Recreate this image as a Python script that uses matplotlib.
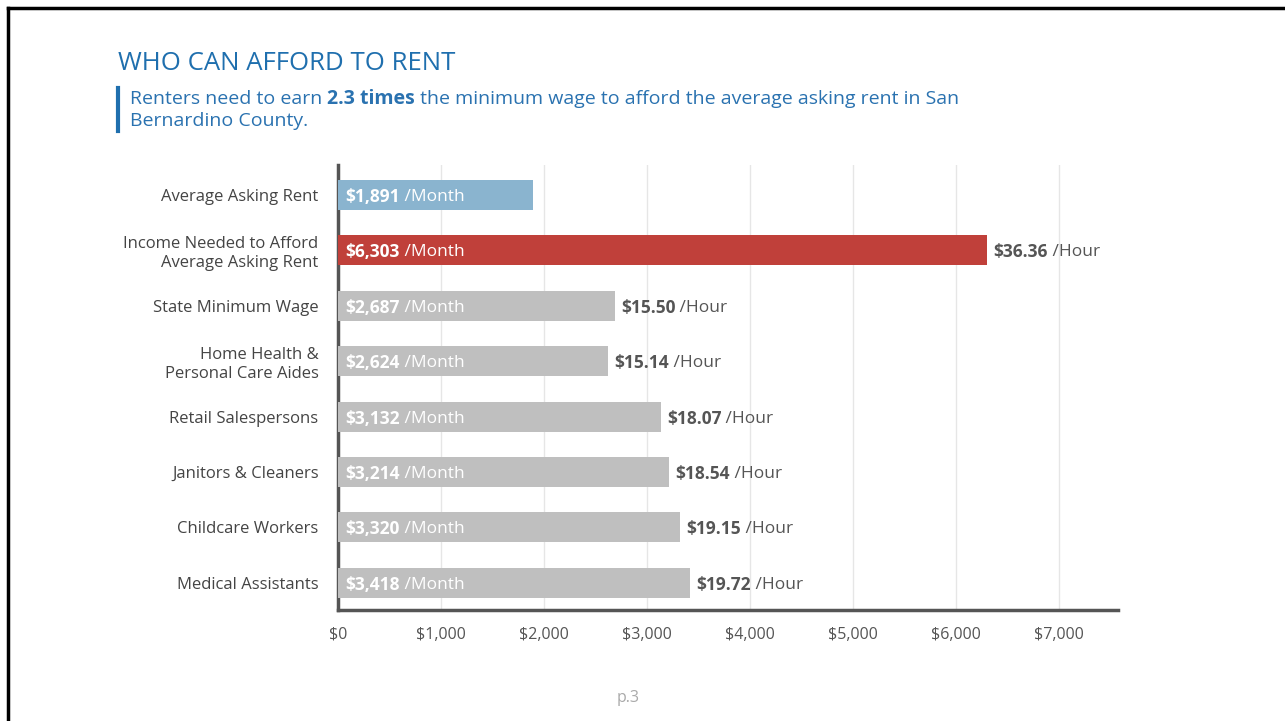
import matplotlib.pyplot as plt
from matplotlib.lines import Line2D
from matplotlib.transforms import offset_copy

# --- data ---
categories = ["Average Asking Rent", "Income Needed to Afford\nAverage Asking Rent",
              "State Minimum Wage", "Home Health &\nPersonal Care Aides",
              "Retail Salespersons", "Janitors & Cleaners",
              "Childcare Workers", "Medical Assistants"]
monthly = [1891, 6303, 2687, 2624, 3132, 3214, 3320, 3418]
hourly = [None, 36.36, 15.50, 15.14, 18.07, 18.54, 19.15, 19.72]
bar_colors = ["#8ab4cf", "#c0403a", "#bfbfbf", "#bfbfbf", "#bfbfbf", "#bfbfbf", "#bfbfbf", "#bfbfbf"]
xticks = [0, 1000, 2000, 3000, 4000, 5000, 6000, 7000]

plt.rcParams['font.family'] = ['Open Sans', 'DejaVu Sans']

fig = plt.figure(figsize=(12.85, 7.21), dpi=100)
ax = fig.add_axes([0.263, 0.154, 0.607, 0.617])
renderer = fig.canvas.get_renderer()

y = list(range(len(categories)))
ax.barh(y, monthly, height=0.54, color=bar_colors, zorder=3)
ax.set_xlim(0, 7570)
ax.set_ylim(7.49, -0.54)

ax.set_xticks(xticks)
ax.set_xticklabels([f"${v:,}" for v in xticks], fontsize=11.5, color="#555555")
ax.set_yticks(y)
ax.set_yticklabels(categories, fontsize=12, color="#444444", linespacing=1.2)
ax.tick_params(length=0, pad=14, axis='y')
ax.tick_params(length=0, pad=12, axis='x')
ax.grid(axis='x', color="#e6e6e6", lw=1, zorder=0)
for s in ['top', 'right']:
    ax.spines[s].set_visible(False)
for s in ['left', 'bottom']:
    ax.spines[s].set_color("#555555")
    ax.spines[s].set_linewidth(2.5)


def chain(target, base_tr, x, yy, pieces, color, size, va='center_baseline'):
    # mixed bold/regular pieces on one baseline, each shifted by the widths before it
    shift = 0.0
    for txt, bold in pieces:
        tr = offset_copy(base_tr, fig=fig, x=shift * 72 / fig.dpi, y=0, units='points')
        t = target.text(x, yy, txt, transform=tr, color=color, fontsize=size,
                        fontweight='bold' if bold else 'normal', va=va, ha='left', zorder=5)
        shift += t.get_window_extent(renderer).width


for i, (m, h) in enumerate(zip(monthly, hourly)):
    chain(ax, ax.transData, 75, i, [(f"${m:,}", True), (" /Month", False)], "white", 12.5)
    if h is not None:
        chain(ax, ax.transData, m + 60, i, [(f"${h:.2f}", True), (" /Hour", False)],
              "#555555", 12.5)

# title and subtitle
fig.text(118 / 1285, 1 - 64 / 721, "WHO CAN AFFORD TO RENT", fontsize=18.5,
         color="#1f6fae", va='center', ha='left')

sub_color = "#2a72b0"
chain(fig, fig.transFigure, 130 / 1285, 1 - 104 / 721,
      [("Renters need to earn ", False), ("2.3 times", True),
       (" the minimum wage to afford the average asking rent in San", False)],
      sub_color, 14, va='baseline')
fig.text(130 / 1285, 1 - 126 / 721, "Bernardino County.", fontsize=14,
         color=sub_color, va='baseline', ha='left')
fig.add_artist(Line2D([118 / 1285, 118 / 1285], [1 - 88 / 721, 1 - 131 / 721],
                      color="#1f6fae", lw=3))

# page number and frame
fig.text(628 / 1285, 1 - 698 / 721, "p.3", fontsize=11.5, color="#aaaaaa",
         ha='center', va='center')
fig.add_artist(Line2D([8 / 1285, 8 / 1285], [0, 1 - 8 / 721], color="black", lw=2.5))
fig.add_artist(Line2D([8 / 1285, 1], [1 - 8 / 721, 1 - 8 / 721], color="black", lw=2.5))

fig.savefig("out.png", dpi=100, facecolor="white")
